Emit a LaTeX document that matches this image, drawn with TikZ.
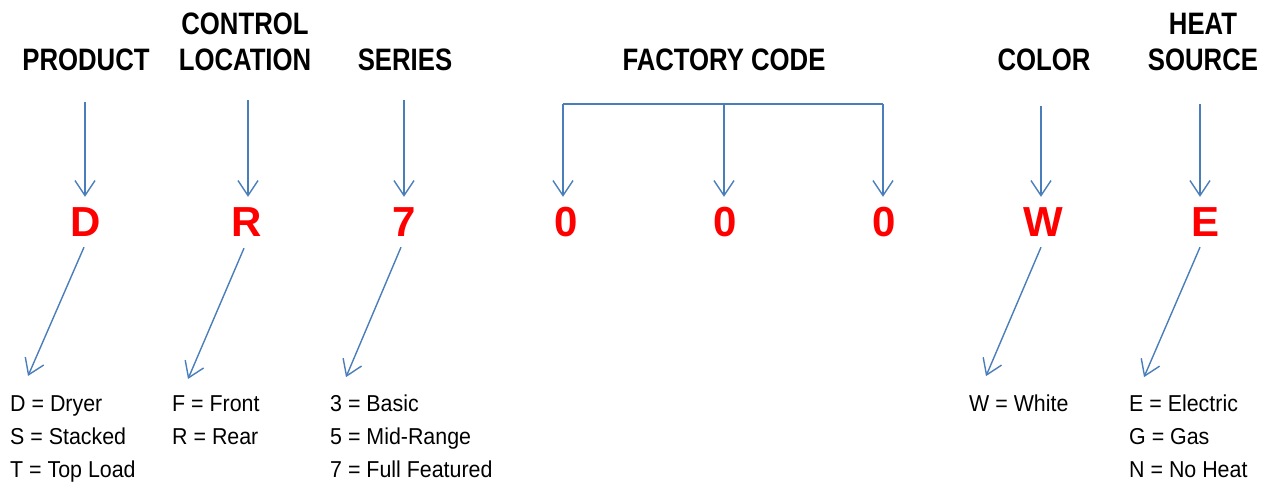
\documentclass[tikz,border=0pt]{standalone}
\usepackage{fontspec}
\setmainfont{Liberation Sans}
\usetikzlibrary{arrows.meta,calc}
\definecolor{lineblue}{RGB}{74,126,187}
\definecolor{codered}{RGB}{255,0,0}
\newcommand{\hd}[1]{\scalebox{0.83}[1]{#1}}
\newcommand{\lt}[1]{\scalebox{0.93}[1]{#1}}
\tikzset{
  heading/.style={anchor=south, inner sep=0pt, text depth=0pt, align=center,
    font=\fontsize{31}{36}\selectfont\bfseries},
  codeletter/.style={text=codered, inner sep=0pt, minimum height=50pt,
    font=\fontsize{42}{42}\selectfont\bfseries},
  listline/.style={anchor=base west, inner sep=0pt, font=\fontsize{23}{28}\selectfont},
  conn/.style={draw=lineblue, line width=1.4pt},
  arr/.style={conn, -{Straight Barb[length=15pt,width=20pt,line width=1.4pt]}}
}
\begin{document}
\begin{tikzpicture}[x=1pt,y=1pt]
\useasboundingbox (0,0) rectangle (1270,-485);
% headings
\node[heading] (prod) at (86,-71) {\hd{PRODUCT}};
\node[heading] (ctrl) at (245,-71) {\hd{CONTROL}\\\hd{LOCATION}};
\node[heading] (ser)  at (405,-71) {\hd{SERIES}};
\node[heading] (fact) at (724,-71) {\hd{FACTORY CODE}};
\node[heading] (col)  at (1044,-71) {\hd{COLOR}};
\node[heading] (heat) at (1203,-71) {\hd{HEAT}\\\hd{SOURCE}};
% code letters
\node[codeletter] (D)  at (86,-222) {D};
\node[codeletter] (R)  at (247,-222) {R};
\node[codeletter] (S7) at (404,-222) {7};
\node[codeletter] (Z1) at (566,-222) {0};
\node[codeletter] (Z2) at (725,-222) {0};
\node[codeletter] (Z3) at (884,-222) {0};
\node[codeletter] (W)  at (1043,-222) {W};
\node[codeletter] (E)  at (1205,-222) {E};
% lists
\node[listline] (d1) at (10,-411) {\lt{D = Dryer}};
\node[listline] (d2) at (10,-444) {\lt{S = Stacked}};
\node[listline] (d3) at (10,-477) {\lt{T = Top Load}};
\node[listline] (r1) at (172,-411) {\lt{F = Front}};
\node[listline] (r2) at (172,-444) {\lt{R = Rear}};
\node[listline] (s1) at (330,-411) {\lt{3 = Basic}};
\node[listline] (s2) at (330,-444) {\lt{5 = Mid-Range}};
\node[listline] (s3) at (330,-477) {\lt{7 = Full Featured}};
\node[listline] (w1) at (969,-411) {\lt{W = White}};
\node[listline] (e1) at (1129,-411) {\lt{E = Electric}};
\node[listline] (e2) at (1129,-444) {\lt{G = Gas}};
\node[listline] (e3) at (1129,-477) {\lt{N = No Heat}};
% vertical arrows from headings to letters
\draw[arr, shorten <=31pt] ([xshift=-1pt]D.north |- prod.south) -- ([xshift=-1pt]D.north);
\draw[arr, shorten <=29pt] ([xshift=1pt]R.north |- ctrl.south) -- ([xshift=1pt]R.north);
\draw[arr, shorten <=29pt] (S7.north |- ser.south) -- (S7.north);
\draw[arr, shorten <=35pt] ([xshift=-2pt]W.north |- col.south) -- ([xshift=-2pt]W.north);
\draw[arr, shorten <=33pt] ([xshift=-5pt]E.north |- heat.south) -- ([xshift=-5pt]E.north);
% factory code bracket
\coordinate (fL) at ($([xshift=-3pt]Z1.north |- fact.south)+(0,-33)$);
\coordinate (fM) at ($([xshift=-1pt]Z2.north |- fact.south)+(0,-33)$);
\coordinate (fR) at ($([xshift=-1pt]Z3.north |- fact.south)+(0,-33)$);
\draw[conn] (fL) -- (fR);
\draw[arr] (fL) -- ([xshift=-3pt]Z1.north);
\draw[arr] (fM) -- ([xshift=-1pt]Z2.north);
\draw[arr] (fR) -- ([xshift=-1pt]Z3.north);
% diagonal arrows from letters to lists
\draw[arr] ([xshift=-2pt]D.south) -- ([shift={(18pt,19pt)}]d1.north west);
\draw[arr] ([xshift=-3pt,yshift=-1pt]R.south) -- ([shift={(16pt,16pt)}]r1.north west);
\draw[arr] ([xshift=-3pt]S7.south) -- ([shift={(16pt,17pt)}]s1.north west);
\draw[arr] ([xshift=-2pt]W.south) -- ([shift={(17pt,18pt)}]w1.north west);
\draw[arr] ([xshift=-5pt]E.south) -- ([shift={(15pt,17pt)}]e1.north west);
\end{tikzpicture}
\end{document}
